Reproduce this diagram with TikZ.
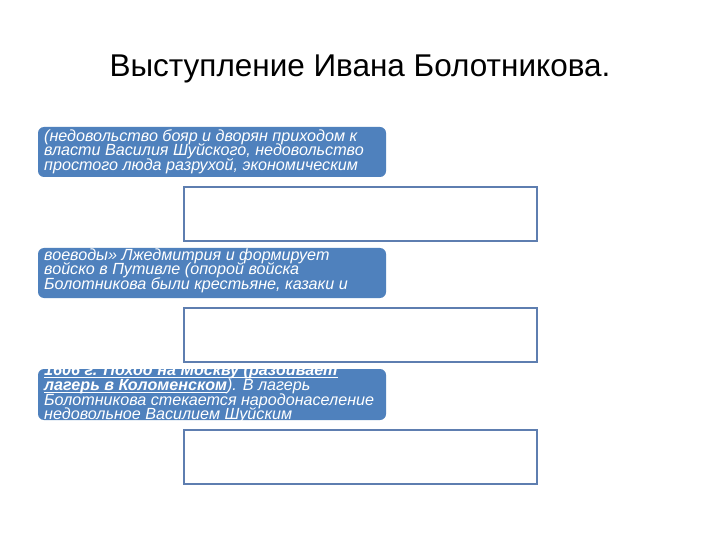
\documentclass[tikz,border=0pt]{standalone}
\usepackage{fontspec}
\setmainfont{Liberation Sans}
\usepackage{tikz}
\definecolor{boxblue}{RGB}{79,129,189}
\definecolor{frameblue}{RGB}{94,126,176}
\newcommand{\tightlines}{\lineskiplimit=-30pt\relax}
\newcommand{\baseul}[1]{\underline{\smash{#1}}}

\begin{document}
\begin{tikzpicture}[x=1bp,y=-1bp,
every node/.style={inner sep=0pt},
causebox/.style={fill=boxblue,rounded corners=6bp},
emptybox/.style={draw=frameblue,line width=1.6bp,fill=white},
boxtext/.style={anchor=base west,align=left,text=white,
	font=\itshape\fontsize{16.2}{14.6}\selectfont\tightlines}]
\useasboundingbox[fill=white] (0,0) rectangle (720,540);

\node[anchor=base](title) at (360,77) {\fontsize{31.6}{36}\selectfont Выступление Ивана Болотникова.};

%blue boxes with text, clipped as on the slide (base = last line)
\path[causebox] (38,127) rectangle (386,177);
\begin{scope}
	\clip (38,127) rectangle (386,177);
	\node[boxtext](t1) at (44,170.2) {(недовольство бояр и дворян приходом к\\
		власти Василия Шуйского, недовольство\\
		простого люда разрухой, экономическим};
\end{scope}

\path[causebox] (38,248) rectangle (386,298);
\begin{scope}
	\clip (38,248) rectangle (386,298);
	\node[boxtext](t2) at (44,289.2) {воеводы» Лжедмитрия и формирует\\
		войско в Путивле (опорой войска\\
		Болотникова были крестьяне, казаки и};
\end{scope}

\path[causebox] (38,369) rectangle (386,420);
\begin{scope}
	\clip (38,369) rectangle (386,420);
	\node[boxtext](t3) at (44,419.6) {\baseul{\bfseries 1606 г. Поход на Москву (разбивает}\\
		\baseul{\bfseries лагерь в Коломенском}). В лагерь\\
		Болотникова стекается народонаселение\\
		недовольное Василием Шуйским};
\end{scope}

%empty boxes
\foreach \y [count=\i] in {186,307,429}{
	\node[emptybox,anchor=north west,minimum width=353bp,minimum height=54bp](e\i) at (183,\y) {};
}
\end{tikzpicture}
\end{document}
